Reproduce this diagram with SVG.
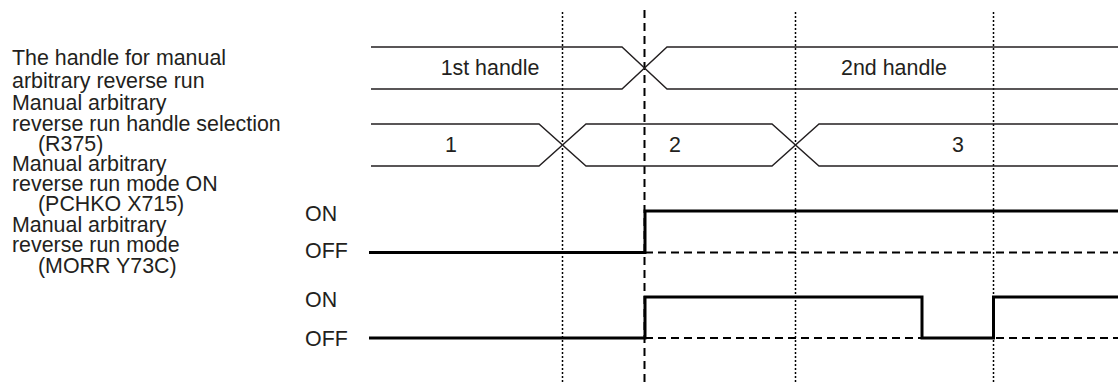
<svg xmlns="http://www.w3.org/2000/svg" width="1118" height="383" viewBox="0 0 1118 383">
<style>
text{font-family:"Liberation Sans",Arial,sans-serif;font-size:21.4px;fill:#231f20}
.bus{fill:none;stroke:#231f20;stroke-width:1.4}
.sig{fill:none;stroke:#000;stroke-width:3;stroke-linejoin:miter}
.off{fill:none;stroke:#000;stroke-width:2;stroke-dasharray:8 5}
.dot{fill:none;stroke:#000;stroke-width:1.5;stroke-dasharray:2 2}
.dash{fill:none;stroke:#000;stroke-width:2;stroke-dasharray:8 5}
.c{text-anchor:middle}
</style>
<rect width="1118" height="383" fill="#fff"/>
<g id="labels">
<text x="12" y="65">The handle for manual</text>
<text x="12" y="88">arbitrary reverse run</text>
<text x="12" y="110">Manual arbitrary</text>
<text x="12" y="131">reverse run handle selection</text>
<text x="38" y="151">(R375)</text>
<text x="12" y="171">Manual arbitrary</text>
<text x="12" y="191">reverse run mode ON</text>
<text x="38" y="211">(PCHKO X715)</text>
<text x="12" y="232">Manual arbitrary</text>
<text x="12" y="252">reverse run mode</text>
<text x="38" y="273">(MORR Y73C)</text>
<text x="305" y="221">ON</text>
<text x="305" y="258">OFF</text>
<text x="305" y="307">ON</text>
<text x="305" y="346">OFF</text>
</g>
<g id="guides">
<line class="dot" x1="562.5" y1="12" x2="562.5" y2="383"/>
<line class="dash" x1="644.5" y1="10" x2="644.5" y2="383"/>
<line class="dot" x1="795.5" y1="12" x2="795.5" y2="383"/>
<line class="dot" x1="993.5" y1="12" x2="993.5" y2="383"/>
</g>
<g id="handle">
<path class="bus" d="M371 47H622L667 89H1118M371 89H622L667 47H1118"/>
<text class="c" x="490" y="75">1st handle</text>
<text class="c" x="894" y="75">2nd handle</text>
</g>
<g id="selection">
<path class="bus" d="M371 124H539L586 166H772L819 124H1118M371 166H539L586 124H772L819 166H1118"/>
<text class="c" x="451" y="152">1</text>
<text class="c" x="675" y="152">2</text>
<text class="c" x="958" y="152">3</text>
</g>
<g id="pchko">
<path class="off" d="M645 252.5H1118"/>
<path class="sig" d="M369 252.5H645V211H1118"/>
</g>
<g id="morr">
<path class="off" d="M645 338H1118"/>
<path class="sig" d="M369 338H645V297H922V338H993.5V297H1118"/>
</g>
</svg>
